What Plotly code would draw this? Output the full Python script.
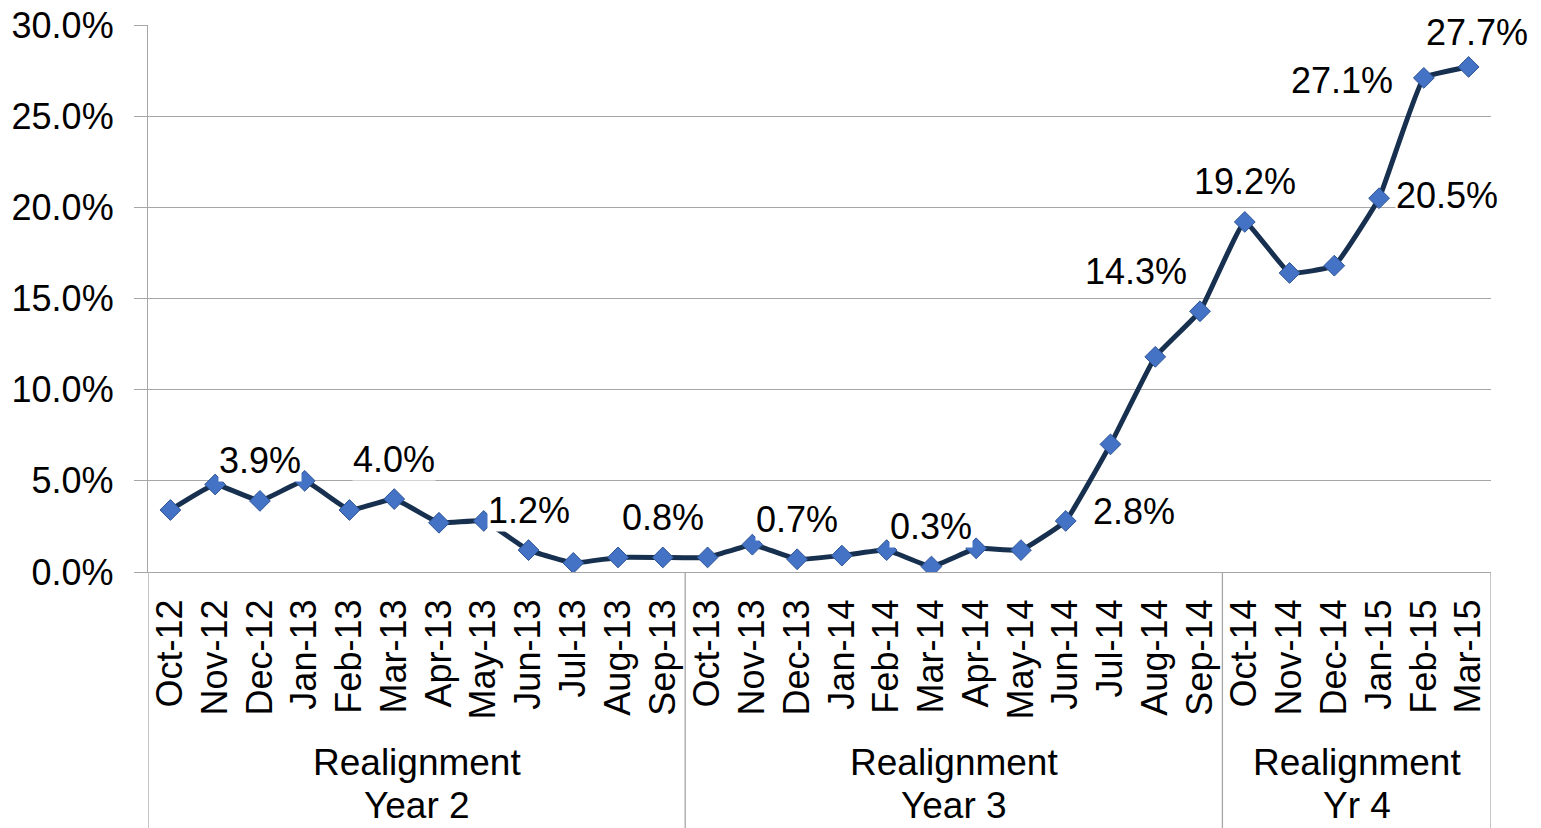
import plotly.graph_objects as go

# monthly values (%)
months = ["Oct-12", "Nov-12", "Dec-12", "Jan-13", "Feb-13", "Mar-13", "Apr-13", "May-13",
          "Jun-13", "Jul-13", "Aug-13", "Sep-13", "Oct-13", "Nov-13", "Dec-13", "Jan-14",
          "Feb-14", "Mar-14", "Apr-14", "May-14", "Jun-14", "Jul-14", "Aug-14", "Sep-14",
          "Oct-14", "Nov-14", "Dec-14", "Jan-15", "Feb-15", "Mar-15"]
values = [3.4, 4.8, 3.9, 5.0, 3.4, 4.0, 2.7, 2.8,
          1.2, 0.5, 0.8, 0.8, 0.8, 1.5, 0.7, 0.9,
          1.2, 0.3, 1.3, 1.2, 2.8, 7.0, 11.8, 14.3,
          19.2, 16.4, 16.8, 20.5, 27.1, 27.7]

group_top = ["Realignment", "Realignment", "Realignment"]
group_bottom = ["Year 2", "Year 3", "Yr 4"]
group_sizes = [12, 12, 6]

y_ticks = [0, 5, 10, 15, 20, 25, 30]

# which points get a value label, and where it sits
label_pos = {
    "Dec-12": "above", "Mar-13": "above", "Jun-13": "above", "Sep-13": "above",
    "Dec-13": "above", "Mar-14": "above", "Jun-14": "right", "Sep-14": "aboveleft",
    "Oct-14": "above", "Jan-15": "right", "Feb-15": "left", "Mar-15": "above",
}

FONT = "Liberation Sans, Arial, sans-serif"
GRID = "#A6A6A6"
FS = 36

fig = go.Figure()
fig.add_trace(go.Scatter(
    x=months, y=values, mode="lines+markers",
    line=dict(color="#17304F", width=5, shape="spline", smoothing=0.3),
    marker=dict(symbol="diamond", size=16, color="#4472C4",
                line=dict(color="#2F5597", width=1)),
    showlegend=False, hoverinfo="x+y",
))

# data labels
for m, v in zip(months, values):
    pos = label_pos.get(m)
    if pos is None:
        continue
    kw = dict(xanchor="center", yanchor="middle", xshift=0, yshift=40)
    if pos == "right":
        kw = dict(xanchor="left", yanchor="middle", xshift=16, yshift=3)
        if m == "Jun-14":
            kw["xshift"] = 26
            kw["yshift"] = 9
    elif pos == "left":
        kw = dict(xanchor="right", yanchor="middle", xshift=-30, yshift=-3)
    elif pos == "aboveleft":
        kw = dict(xanchor="right", yanchor="middle", xshift=-12, yshift=40)
    elif m == "Mar-15":
        kw["yshift"] = 34
        kw["xshift"] = 8
    fig.add_annotation(x=m, y=v, text=f"{v:.1f}%", showarrow=False,
                       font=dict(family=FONT, size=FS, color="black"),
                       bgcolor="white", borderpad=0, **kw)

# group labels and separators below the axis
bottom = -0.47
start = 0
fig.add_shape(type="line", xref="x", yref="paper", x0=-0.5, x1=-0.5, y0=bottom, y1=0,
              line=dict(color=GRID, width=1.3))
for top_txt, bot_txt, n in zip(group_top, group_bottom, group_sizes):
    end = start + n
    mid = (start + end - 1) / 2
    fig.add_shape(type="line", xref="x", yref="paper", x0=end - 0.5, x1=end - 0.5,
                  y0=bottom, y1=0, line=dict(color=GRID, width=1.3))
    fig.add_annotation(x=mid, y=-0.349, xref="x", yref="paper", text=top_txt,
                       showarrow=False, yanchor="middle",
                       font=dict(family=FONT, size=37, color="black"))
    fig.add_annotation(x=mid, y=-0.426, xref="x", yref="paper", text=bot_txt,
                       showarrow=False, yanchor="middle",
                       font=dict(family=FONT, size=37, color="black"))
    start = end

# page body shifts the figure 8px right/down, so trim width/height and left/top margins
fig.update_layout(
    width=1533, height=820,
    margin=dict(l=140, r=50, t=17, b=256, autoexpand=False),
    plot_bgcolor="white", paper_bgcolor="white",
    font=dict(family=FONT, size=FS, color="black"),
    xaxis=dict(type="category", tickangle=-90, showgrid=False, showline=True,
               linecolor=GRID, linewidth=1.3, ticks="", ticklabelstandoff=12,
               range=[-0.5, len(months) - 0.5], automargin=False,
               tickfont=dict(family=FONT, size=FS, color="black")),
    yaxis=dict(range=[0, 30], tickvals=y_ticks, ticktext=[f"{t:.1f}%" for t in y_ticks],
               showgrid=True, gridcolor=GRID, gridwidth=1.3, zeroline=False,
               showline=True, linecolor=GRID, linewidth=1.3, automargin=False,
               ticks="outside", ticklen=13, tickcolor=GRID, ticklabelstandoff=13,
               ticklabeloverflow="allow",
               tickfont=dict(family=FONT, size=FS, color="black")),
)

fig.write_html("out.html")
